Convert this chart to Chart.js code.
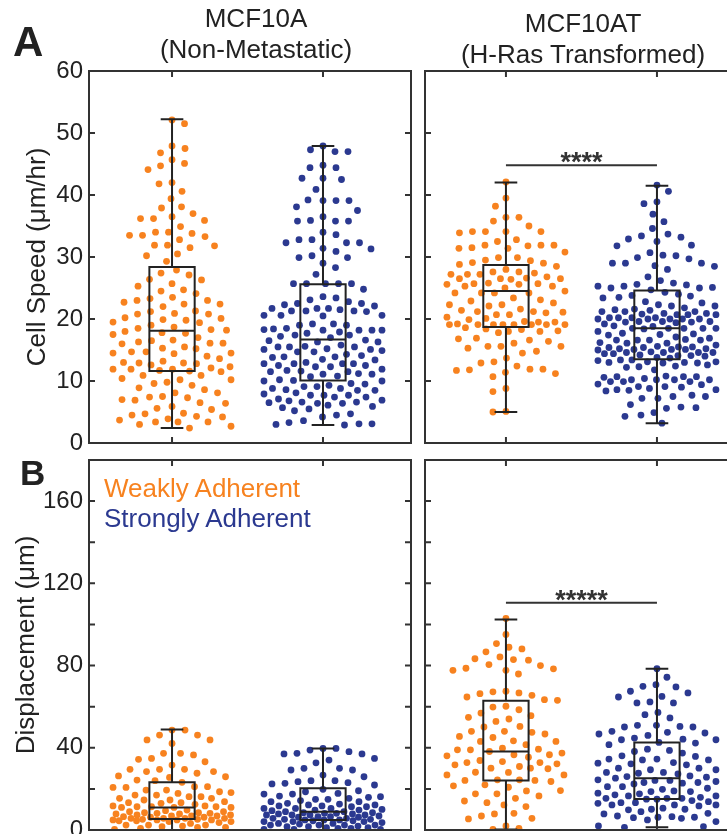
<!DOCTYPE html>
<html>
<head>
<meta charset="utf-8">
<script src="https://cdn.jsdelivr.net/npm/chart.js@4.4.1/dist/chart.umd.min.js"></script>
<style>
  html, body { margin: 0; padding: 0; width: 727px; height: 834px; overflow: hidden; background: #fff; }
  body { font-family: "Liberation Sans", Arial, sans-serif; }
  canvas { position: absolute; left: 0; top: 0; }
  .t { position: absolute; white-space: nowrap; line-height: 1; color: #222; font-size: 26px; }
  .c { transform: translateX(-50%); }
</style>
</head>
<body>
<canvas id="speedA" width="760" height="834"></canvas>
<canvas id="speedAT" width="760" height="834"></canvas>
<canvas id="dispA" width="760" height="834"></canvas>
<canvas id="dispAT" width="760" height="834"></canvas>

<div class="t" style="left:13px;top:21px;font-size:42px;font-weight:bold;">A</div>
<div class="t" style="left:20px;top:455px;font-size:35px;font-weight:bold;">B</div>
<div class="t c" style="left:256px;top:5px;">MCF10A</div>
<div class="t c" style="left:256px;top:36px;">(Non-Metastatic)</div>
<div class="t c" style="left:583px;top:10px;">MCF10AT</div>
<div class="t c" style="left:583px;top:41px;">(H-Ras Transformed)</div>
<div class="t" style="left:104px;top:475px;color:#F7821F;">Weakly Adherent</div>
<div class="t" style="left:104px;top:505px;color:#2B3990;">Strongly Adherent</div>

<script>
const groups = ["Weakly Adherent", "Strongly Adherent"];
const colors = ["#F7821F", "#2B3990"];
const FONT = '"Liberation Sans", Arial, sans-serif';

/* axes */
const speedTicks = [0, 10, 20, 30, 40, 50, 60];
const speedLabels = [0, 10, 20, 30, 40, 50, 60];
const dispTicks = [0, 20, 40, 60, 80, 100, 120, 140, 160, 180];
const dispLabels = [0, 40, 80, 120, 160];

/* cell speed (um/hr) */
const speedWeakMCF10A = [52.1, 51.5, 47.9, 47.5, 46.8, 45.7, 45.1, 44.7, 44.1, 42.0, 41.8, 40.6, 39.4, 38.1, 37.9, 37.0, 36.5, 36.2, 36.2, 35.9, 34.9, 34.0, 34.0, 33.8, 33.5, 33.3, 33.5, 32.8, 31.9, 31.9, 31.8, 31.5, 30.5, 30.2, 29.3, 27.9, 27.4, 27.1, 26.4, 26.3, 25.7, 25.3, 24.5, 24.7, 24.1, 23.5, 23.3, 23.0, 23.0, 22.7, 22.4, 22.4, 22.0, 21.2, 21.3, 20.9, 20.8, 20.8, 20.2, 20.1, 19.9, 19.8, 19.5, 19.4, 19.0, 18.7, 18.5, 18.3, 18.2, 18.0, 17.8, 17.7, 17.5, 17.0, 16.6, 16.5, 16.3, 16.1, 16.1, 16.0, 15.5, 15.3, 15.2, 14.7, 14.7, 14.5, 14.5, 14.4, 14.0, 13.6, 13.2, 12.9, 12.9, 13.0, 12.8, 12.6, 12.3, 12.1, 11.9, 11.9, 11.9, 11.7, 11.6, 11.5, 10.9, 10.9, 10.4, 10.2, 10.2, 9.8, 9.6, 9.3, 8.9, 8.6, 8.1, 8.1, 7.5, 7.4, 7.3, 6.9, 7.0, 6.5, 6.4, 5.9, 5.6, 5.4, 4.8, 4.7, 4.5, 4.3, 4.2, 3.9, 3.7, 3.4, 3.4, 3.4, 3.0, 2.7, 2.4];
const speedStrongMCF10A = [47.9, 47.0, 47.3, 47.0, 44.8, 44.4, 44.4, 42.7, 42.7, 42.5, 40.9, 39.1, 39.1, 39.2, 39.1, 38.1, 37.5, 36.5, 35.9, 35.8, 35.8, 35.8, 34.0, 33.6, 32.8, 32.8, 32.3, 32.3, 32.3, 31.4, 31.3, 30.9, 30.2, 29.9, 29.9, 29.0, 28.3, 27.2, 25.7, 25.7, 25.7, 25.7, 25.7, 24.8, 23.6, 23.4, 23.1, 22.8, 22.5, 22.5, 22.3, 22.1, 21.7, 21.7, 21.7, 21.5, 21.3, 21.3, 21.3, 21.2, 20.6, 20.6, 20.6, 20.5, 19.2, 19.2, 19.0, 19.0, 18.5, 18.2, 18.2, 18.4, 18.2, 18.2, 18.3, 17.9, 17.7, 17.4, 17.4, 17.2, 17.0, 16.6, 16.5, 16.3, 16.3, 15.8, 15.6, 15.5, 15.5, 15.5, 15.2, 15.1, 15.1, 14.9, 14.7, 14.7, 14.3, 14.1, 13.9, 13.9, 13.8, 13.5, 13.4, 13.0, 12.8, 12.8, 12.8, 12.8, 12.5, 12.5, 12.3, 12.3, 11.9, 11.7, 11.6, 11.5, 11.5, 11.2, 11.1, 11.1, 10.8, 10.7, 10.2, 10.1, 10.0, 10.0, 9.6, 9.5, 9.3, 9.1, 9.1, 8.8, 8.8, 8.6, 8.5, 8.5, 8.1, 7.9, 7.7, 7.7, 7.7, 7.4, 7.4, 7.1, 6.9, 6.8, 6.6, 6.6, 6.5, 6.4, 6.4, 6.1, 5.9, 5.7, 5.5, 5.2, 4.7, 4.5, 4.2, 3.6, 3.3, 3.1, 3.0, 3.1, 2.9];
const speedWeakMCF10AT = [42.1, 39.5, 38.2, 36.4, 36.4, 35.8, 35.0, 34.1, 34.1, 34.1, 34.1, 33.9, 32.8, 32.5, 31.9, 31.8, 31.5, 31.9, 31.9, 31.4, 31.4, 30.8, 29.9, 29.9, 29.5, 29.4, 29.1, 29.0, 28.8, 28.5, 28.0, 27.6, 27.6, 27.4, 27.2, 27.2, 27.2, 26.8, 26.5, 26.4, 26.5, 26.6, 26.5, 25.8, 25.7, 25.7, 25.6, 25.6, 25.3, 25.3, 25.0, 24.5, 24.2, 24.2, 24.2, 24.2, 23.4, 23.1, 22.9, 22.6, 22.3, 22.1, 22.3, 21.6, 21.4, 21.2, 21.1, 21.2, 21.0, 20.7, 20.7, 20.3, 20.1, 19.9, 19.6, 19.5, 19.5, 19.2, 19.1, 19.1, 19.1, 19.1, 19.1, 19.1, 19.1, 19.1, 18.6, 18.4, 18.3, 18.1, 18.0, 18.0, 17.8, 16.9, 16.8, 16.6, 16.4, 16.1, 15.6, 15.6, 15.6, 15.3, 14.8, 14.5, 13.7, 13.1, 12.9, 12.4, 11.9, 11.8, 11.9, 11.7, 11.4, 11.2, 10.7, 8.8, 8.3, 5.1, 5.0];
const speedStrongMCF10AT = [41.6, 40.6, 38.9, 38.6, 36.9, 35.7, 34.6, 33.7, 33.4, 33.2, 32.9, 32.5, 31.9, 31.8, 30.7, 30.3, 30.2, 29.9, 29.7, 29.0, 29.0, 29.0, 28.6, 28.5, 28.0, 26.8, 26.2, 25.8, 25.6, 25.5, 25.3, 25.0, 25.0, 25.1, 25.3, 24.7, 24.3, 24.0, 23.8, 23.7, 23.5, 23.4, 22.8, 22.6, 22.3, 22.1, 22.1, 21.8, 21.6, 21.5, 21.2, 21.2, 21.4, 21.2, 20.9, 20.9, 20.7, 20.8, 20.7, 20.7, 20.2, 20.2, 20.2, 20.2, 20.0, 20.0, 20.0, 20.0, 20.0, 19.6, 19.6, 19.6, 19.5, 19.5, 19.4, 19.2, 18.9, 18.8, 18.5, 18.5, 18.5, 18.5, 18.5, 18.4, 18.0, 17.7, 17.6, 17.5, 17.4, 17.1, 16.9, 16.6, 16.6, 16.7, 16.6, 16.6, 16.2, 16.1, 16.1, 15.8, 15.6, 15.5, 15.5, 15.4, 15.4, 15.2, 15.2, 15.1, 15.1, 15.1, 15.0, 14.7, 14.6, 14.6, 14.6, 14.6, 14.4, 14.4, 14.2, 14.1, 14.1, 14.0, 13.8, 13.7, 13.4, 13.4, 13.3, 13.1, 13.1, 13.0, 13.0, 12.9, 12.9, 12.6, 12.4, 12.3, 12.2, 11.8, 10.8, 10.7, 10.7, 10.7, 10.6, 10.4, 10.2, 10.2, 10.2, 10.2, 9.9, 9.9, 9.9, 9.5, 9.4, 9.1, 9.1, 9.0, 8.8, 8.6, 8.6, 8.5, 8.4, 7.7, 7.5, 7.5, 7.2, 7.2, 6.2, 5.8, 5.7, 5.6, 4.9, 4.5, 4.3, 3.2];

/* displacement (um) */
const dispWeakMCF10A = [48.6, 48.6, 46.2, 46.2, 43.8, 43.8, 42.1, 37.3, 37.3, 36.5, 34.8, 34.4, 33.2, 31.6, 29.5, 29.5, 29.5, 28.4, 28.4, 27.6, 26.3, 25.9, 25.6, 24.3, 24.0, 23.2, 21.1, 21.1, 20.7, 20.7, 19.4, 19.4, 18.6, 18.2, 17.8, 17.0, 17.0, 16.2, 16.2, 15.4, 15.4, 14.6, 14.6, 13.8, 13.3, 13.3, 13.0, 12.5, 11.7, 11.7, 11.3, 11.3, 11.3, 11.0, 11.0, 11.0, 9.7, 9.4, 8.9, 8.9, 8.4, 8.4, 8.1, 8.1, 7.8, 7.8, 7.3, 7.3, 6.8, 6.8, 6.8, 6.5, 6.2, 6.2, 5.7, 5.7, 5.7, 5.7, 5.2, 5.2, 4.9, 4.9, 4.9, 4.9, 4.5, 4.5, 4.1, 4.1, 3.6, 3.2, 2.4, 2.4, 2.4, 1.9, 1.6, 1.3, 1.3, 0.8, 0.3];
const dispStrongMCF10A = [39.7, 39.7, 38.9, 38.1, 37.3, 37.0, 37.0, 34.8, 34.0, 32.7, 30.0, 30.0, 29.2, 29.2, 26.7, 25.9, 24.0, 24.0, 23.5, 23.0, 22.7, 22.4, 21.9, 19.8, 19.1, 18.6, 17.8, 17.5, 17.5, 16.5, 16.2, 15.9, 15.4, 14.9, 14.9, 14.3, 13.8, 13.8, 13.0, 12.6, 12.2, 12.2, 11.7, 11.7, 11.3, 11.3, 10.5, 10.5, 10.5, 10.0, 9.7, 9.7, 9.4, 8.9, 8.9, 8.4, 8.4, 8.1, 8.1, 7.8, 7.8, 7.3, 7.3, 7.3, 7.3, 6.8, 6.5, 6.5, 6.2, 6.2, 5.7, 5.7, 5.2, 5.2, 4.9, 4.9, 4.9, 4.5, 4.5, 4.1, 4.1, 4.1, 3.6, 3.2, 3.2, 2.9, 2.4, 2.4, 2.4, 2.4, 1.9, 1.6, 1.6, 1.1, 1.1, 0.8, 0.8, 0.3, 0.3, 0.3];
const dispWeakMCF10AT = [102.9, 95.1, 90.7, 88.9, 88.1, 86.7, 84.2, 82.9, 82.6, 83.3, 80.5, 80.0, 78.7, 78.4, 77.7, 77.7, 75.9, 67.5, 67.2, 66.7, 66.3, 65.5, 64.7, 63.4, 63.1, 60.2, 59.8, 58.5, 56.9, 55.6, 54.8, 54.0, 52.8, 50.4, 50.1, 48.0, 47.5, 48.0, 46.7, 45.5, 45.0, 43.4, 43.1, 43.1, 41.5, 39.8, 39.3, 39.0, 39.0, 38.2, 37.4, 36.6, 36.6, 36.1, 35.4, 33.8, 33.3, 32.8, 32.8, 32.2, 31.7, 30.9, 30.1, 30.1, 29.8, 28.1, 28.0, 26.8, 26.8, 24.4, 24.4, 24.1, 24.1, 23.6, 22.0, 21.5, 20.8, 19.2, 19.0, 17.6, 17.6, 16.6, 15.4, 14.1, 13.3, 12.2, 11.4, 8.1, 7.8, 6.8, 5.7, 5.4, 2.0, 0.8, 0.3];
const dispStrongMCF10AT = [78.5, 74.3, 70.7, 69.9, 69.6, 67.5, 66.7, 65.0, 64.7, 62.3, 61.8, 61.8, 57.2, 56.1, 54.5, 50.9, 50.9, 50.4, 50.1, 50.1, 48.0, 47.5, 47.2, 46.7, 46.0, 44.7, 44.2, 43.9, 43.9, 42.6, 42.3, 41.5, 39.3, 38.7, 38.2, 37.4, 36.1, 35.8, 34.5, 34.5, 34.1, 34.1, 32.8, 32.5, 32.2, 31.7, 30.1, 30.1, 29.3, 29.3, 28.0, 28.0, 27.6, 27.3, 26.3, 26.0, 25.7, 25.2, 24.4, 24.1, 24.1, 23.6, 23.1, 23.1, 22.8, 22.4, 21.1, 21.1, 20.3, 19.8, 19.0, 18.7, 18.7, 17.9, 17.6, 17.1, 16.6, 16.6, 15.9, 15.4, 15.4, 15.4, 15.0, 15.0, 14.3, 13.8, 13.3, 13.3, 13.0, 12.2, 12.2, 12.2, 11.7, 10.6, 10.1, 10.1, 9.8, 8.9, 8.1, 7.8, 6.8, 6.5, 6.2, 6.2, 6.0, 5.7, 4.9, 4.1, 2.0, 1.6, 1.3];

/* box stats: [whisker low, q1, median, q3, whisker high] */
const boxSpeedMCF10A = [[2.4, 11.6, 18.1, 28.4, 52.2], [2.9, 10.1, 16.7, 25.6, 47.9]];
const boxSpeedMCF10AT = [[5.0, 18.7, 24.5, 28.7, 42.0], [3.2, 13.5, 18.5, 24.6, 41.5]];
const boxDispMCF10A = [[0.0, 5.3, 10.9, 23.2, 48.9], [0.0, 4.9, 8.9, 20.3, 39.7]];
const boxDispMCF10AT = [[0.3, 24.1, 38.2, 62.9, 102.4], [1.3, 15.1, 25.2, 42.6, 78.5]];

/* significance */
const sigLevels = [44.8, 110.6];
const sigStars = ["****", "*****"];

const W = 760, H = 834;

/* frame + inward ticks on all four sides */
const framePlugin = {
  id: "frame",
  afterDraw(chart, args, opts) {
    const { ctx, chartArea: a } = chart;
    const xs = chart.scales.x, ys = chart.scales.y;
    ctx.save();
    ctx.strokeStyle = "#333";
    ctx.lineWidth = 2;
    ctx.strokeRect(a.left, a.top, a.right - a.left, a.bottom - a.top);
    ctx.beginPath();
    opts.yTicks.forEach(v => {
      const py = ys.getPixelForValue(v);
      ctx.moveTo(a.left, py); ctx.lineTo(a.left + 6, py);
      ctx.moveTo(a.right, py); ctx.lineTo(a.right - 6, py);
    });
    [1, 2].forEach(c => {
      const px = xs.getPixelForValue(c);
      ctx.moveTo(px, a.top); ctx.lineTo(px, a.top + 6);
      ctx.moveTo(px, a.bottom); ctx.lineTo(px, a.bottom - 6);
    });
    ctx.stroke();
    ctx.restore();
  }
};

/* box and whiskers, plus the significance bar */
const boxPlugin = {
  id: "boxes",
  afterDatasetsDraw(chart, args, opts) {
    const { ctx } = chart;
    const xs = chart.scales.x, ys = chart.scales.y;
    ctx.save();
    ctx.strokeStyle = "#222";
    ctx.lineWidth = 2;
    opts.stats.forEach((s, i) => {
      const c = i + 1;
      const [mn, q1, md, q3, mx] = s.map(v => ys.getPixelForValue(v));
      const xc = xs.getPixelForValue(c);
      const xl = xs.getPixelForValue(c - 0.15), xr = xs.getPixelForValue(c + 0.15);
      const cl = xs.getPixelForValue(c - 0.075), cr = xs.getPixelForValue(c + 0.075);
      ctx.beginPath();
      ctx.moveTo(xc, mn); ctx.lineTo(xc, q1);
      ctx.moveTo(xc, q3); ctx.lineTo(xc, mx);
      ctx.moveTo(cl, mn); ctx.lineTo(cr, mn);
      ctx.moveTo(cl, mx); ctx.lineTo(cr, mx);
      ctx.moveTo(xl, md); ctx.lineTo(xr, md);
      ctx.rect(xl, q3, xr - xl, q1 - q3);
      ctx.stroke();
    });
    if (opts.sig) {
      const py = ys.getPixelForValue(opts.sig.level);
      const x1 = xs.getPixelForValue(1), x2 = xs.getPixelForValue(2);
      ctx.strokeStyle = "#333";
      ctx.beginPath();
      ctx.moveTo(x1, py); ctx.lineTo(x2, py);
      ctx.stroke();
      ctx.fillStyle = "#333";
      ctx.font = "bold 27px " + FONT;
      ctx.textAlign = "center";
      ctx.textBaseline = "alphabetic";
      ctx.fillText(opts.sig.stars, (x1 + x2) / 2, py + 6);
    }
    ctx.restore();
  }
};

/* beeswarm layout of the points, in pixels, capped at a max half width */
function swarm(chart, series) {
  const xs = chart.scales.x, ys = chart.scales.y;
  const unit = xs.getPixelForValue(1) - xs.getPixelForValue(0);
  const D = 13, STEP = 0.5, MAXOFF = 59;
  chart.data.datasets.forEach((ds, i) => {
    const placed = [];
    ds.data = series[i].map((v, n) => {
      const py = ys.getPixelForValue(v);
      const flip = n % 2 ? 1 : -1;
      let best = 0, bestGap = -1;
      for (let k = 0; k <= 2 * MAXOFF / STEP; k++) {
        const off = (k % 2 ? flip : -flip) * Math.ceil(k / 2) * STEP;
        let gap = Infinity;
        for (const p of placed) {
          const d = Math.hypot(p.ox - off, p.py - py);
          if (d < gap) gap = d;
        }
        if (gap >= D) { best = off; break; }
        if (gap > bestGap) { bestGap = gap; best = off; }
      }
      placed.push({ ox: best, py });
      return { x: i + 1 + best / unit, y: v };
    });
  });
  chart.update("none");
}

function makePanel(id, area, xRange, yMax, yTicks, yLabels, yTitle, titlePad, series, stats, sig) {
  const chart = new Chart(document.getElementById(id), {
    type: "scatter",
    data: {
      datasets: series.map((vals, i) => ({
        label: groups[i],
        data: vals.map(v => ({ x: i + 1, y: v })),
        backgroundColor: colors[i],
        pointRadius: 3.4,
        pointHoverRadius: 3.4,
        pointBorderWidth: 0
      }))
    },
    options: {
      responsive: false,
      animation: false,
      events: [],
      layout: {
        padding: { left: yTitle ? 0 : area.left, top: area.top, right: W - area.right, bottom: H - area.bottom }
      },
      scales: {
        x: { type: "linear", display: false, min: xRange[0], max: xRange[1] },
        y: {
          type: "linear",
          display: !!yTitle,
          min: 0,
          max: yMax,
          afterFit: s => {
            s.width = yTitle ? area.left : 0;
            s.paddingTop = 0;
            s.paddingBottom = 0;
          },
          grid: { display: false, drawTicks: false },
          border: { display: false },
          ticks: {
            stepSize: yTicks[1] - yTicks[0],
            autoSkip: false,
            padding: 6,
            color: "#222",
            font: { family: FONT, size: 24 },
            callback: v => yLabels.includes(v) ? v : ""
          },
          title: {
            display: !!yTitle,
            text: yTitle || "",
            color: "#222",
            font: { family: FONT, size: 26 },
            padding: { top: titlePad, bottom: 0 }
          }
        }
      },
      plugins: {
        legend: { display: false },
        tooltip: { enabled: false },
        frame: { yTicks },
        boxes: { stats, sig }
      }
    },
    plugins: [boxPlugin, framePlugin]
  });
  swarm(chart, series);
  return chart;
}

makePanel("speedA", { left: 89, right: 411, top: 71, bottom: 443 }, [0.45, 2.583], 60,
  speedTicks, speedLabels, "Cell Speed (\u03bcm/hr)", 22,
  [speedWeakMCF10A, speedStrongMCF10A], boxSpeedMCF10A, null);

makePanel("speedAT", { left: 425, right: 745, top: 71, bottom: 443 }, [0.464, 2.583], 60,
  speedTicks, [], null, 0,
  [speedWeakMCF10AT, speedStrongMCF10AT], boxSpeedMCF10AT, { level: sigLevels[0], stars: sigStars[0] });

makePanel("dispA", { left: 89, right: 411, top: 460, bottom: 830 }, [0.45, 2.583], 180,
  dispTicks, dispLabels, "Displacement (\u03bcm)", 11,
  [dispWeakMCF10A, dispStrongMCF10A], boxDispMCF10A, null);

makePanel("dispAT", { left: 425, right: 745, top: 460, bottom: 830 }, [0.464, 2.583], 180,
  dispTicks, [], null, 0,
  [dispWeakMCF10AT, dispStrongMCF10AT], boxDispMCF10AT, { level: sigLevels[1], stars: sigStars[1] });
</script>
</body>
</html>
